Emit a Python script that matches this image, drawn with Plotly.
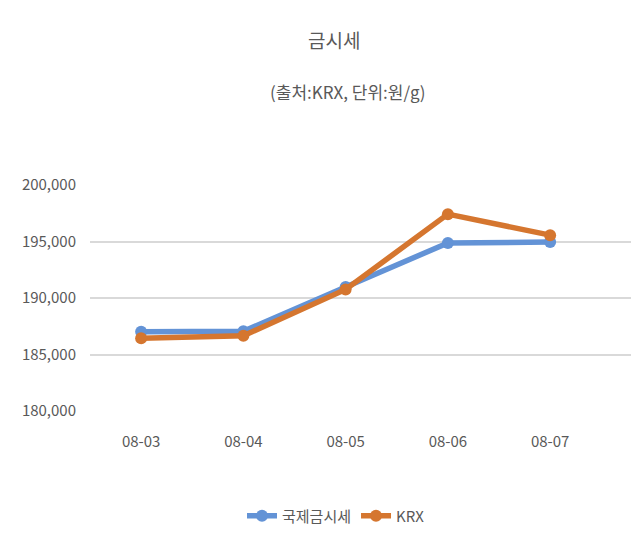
import plotly.graph_objects as go

dates = ["08-03", "08-04", "08-05", "08-06", "08-07"]
intl_gold = [187020, 187050, 190980, 194870, 194950]
krx_gold = [186430, 186660, 190760, 197420, 195560]
y_ticks = [180000, 185000, 190000, 195000, 200000]

BLUE = "#6393D6"
ORANGE = "#D5762F"
TXT = "#595959"
FONT = "Noto Sans CJK KR, sans-serif"

# page has an 8px body margin; figure is sized to fit the 639x544 window
OFF = 8
W, H = 639 - OFF, 544 - OFF
L, R, T, B = 90 - OFF, 4, 185 - OFF, 544 - 411

x_idx = list(range(len(dates)))

fig = go.Figure()
fig.add_trace(go.Scatter(
    x=x_idx, y=intl_gold, name="국제금시세", mode="lines+markers",
    line=dict(color=BLUE, width=5.5), marker=dict(color=BLUE, size=12, symbol="circle")))
fig.add_trace(go.Scatter(
    x=x_idx, y=krx_gold, name="KRX", mode="lines+markers",
    line=dict(color=ORANGE, width=5.5), marker=dict(color=ORANGE, size=12, symbol="circle")))

fig.update_layout(
    width=W, height=H,
    paper_bgcolor="white", plot_bgcolor="white",
    margin=dict(l=L, r=R, t=T, b=B),
    font=dict(family=FONT, color=TXT, size=14),
    showlegend=True,
)

plot_h = H - T - B
plot_w = W - L - R
def py(pix_y):
    return (544 - B - pix_y) / plot_h
def px(pix_x):
    return (pix_x - 90) / plot_w

fig.update_layout(legend=dict(orientation="h", x=px(336), xanchor="center", y=py(516),
                              yanchor="middle", font=dict(size=15, color=TXT)))

fig.add_annotation(text="금시세", x=px(334), y=py(39), xref="paper", yref="paper",
                   xanchor="center", yanchor="middle",
                   showarrow=False, font=dict(size=19, color=TXT))
fig.add_annotation(text="(출처:KRX, 단위:원/g)", x=px(347), y=py(92), xref="paper", yref="paper",
                   xanchor="center", yanchor="middle",
                   showarrow=False, font=dict(size=17, color=TXT))

fig.update_xaxes(
    range=[-0.5, 4.83], tickvals=x_idx, ticktext=dates, showgrid=False,
    zeroline=False, showline=False, ticks="",
    tickfont=dict(size=15, color=TXT), ticklabelstandoff=20)
fig.update_yaxes(
    range=[180000, 200000], tickvals=y_ticks, tickformat=",", showgrid=True,
    gridcolor="#D9D9D9", gridwidth=1.5, zeroline=False, showline=False, ticks="",
    tickfont=dict(size=15, color=TXT), ticklabelstandoff=13)

fig.write_html("out.html")
